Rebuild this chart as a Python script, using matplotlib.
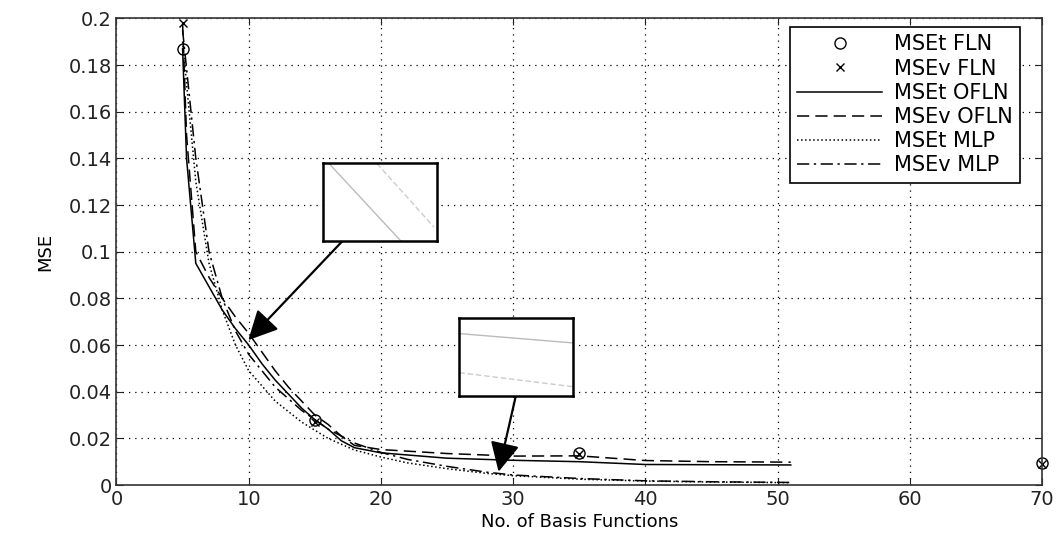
import numpy as np
import matplotlib
matplotlib.use("Agg")
import matplotlib.pyplot as plt

plt.rcParams['font.family'] = ['DejaVu Sans']

# FLN results (markers only)
x_fln = [5, 15, 35, 70]
mset_fln = [0.187, 0.0278, 0.0137, 0.0094]
msev_fln = [0.198, 0.0272, 0.0133, 0.0092]

# OFLN curves
x_ofln = [5, 5.3, 6, 7, 8, 9, 10, 11, 12, 13, 14, 15, 16, 17, 18, 20, 25, 30, 35, 40, 45, 51]
mset_ofln = [0.187, 0.14, 0.095, 0.085, 0.075, 0.067, 0.060, 0.052, 0.045, 0.039, 0.033,
             0.028, 0.024, 0.019, 0.016, 0.0138, 0.0115, 0.0106, 0.0100, 0.0088, 0.0087, 0.0086]
msev_ofln = [0.198, 0.15, 0.100, 0.089, 0.080, 0.072, 0.065, 0.057, 0.049, 0.042, 0.036,
             0.030, 0.026, 0.021, 0.017, 0.0152, 0.0135, 0.0124, 0.0125, 0.0105, 0.0100, 0.0098]

# MLP curves
x_mlp = [5, 6, 7, 8, 9, 10, 12, 14, 16, 18, 20, 22, 25, 28, 30, 35, 40, 45, 51]
mset_mlp = [0.19, 0.13, 0.095, 0.075, 0.060, 0.049, 0.036, 0.027, 0.020, 0.015, 0.012,
            0.0095, 0.0070, 0.0050, 0.0040, 0.0025, 0.0017, 0.0013, 0.0010]
msev_mlp = [0.195, 0.14, 0.10, 0.080, 0.066, 0.056, 0.042, 0.032, 0.024, 0.018, 0.014,
            0.011, 0.0080, 0.0055, 0.0043, 0.0028, 0.0018, 0.0014, 0.0011]

yticks = [0, 0.02, 0.04, 0.06, 0.08, 0.1, 0.12, 0.14, 0.16, 0.18, 0.2]
ylabels = ['0', '0.02', '0.04', '0.06', '0.08', '0.1', '0.12', '0.14', '0.16', '0.18', '0.2']

# zoom boxes: [x0, y0, width, height] in data units, arrow start, arrow tip
box1 = [15.64, 0.1046, 8.63, 0.0332]
arrow1 = [(17.1, 0.1046), (9.97, 0.0621)]
box2 = [25.93, 0.0381, 8.62, 0.0335]
arrow2 = [(30.2, 0.0381), (28.9, 0.0057)]
# faint traces inside the boxes (box-fraction coords)
box1_l1 = ([0.05, 0.68], [1.0, 0.0])
box1_l2 = ([0.47, 0.97], [1.0, 0.18])
box2_l1 = ([0.0, 1.0], [0.80, 0.68])
box2_l2 = ([0.0, 1.0], [0.30, 0.12])

fig = plt.figure(figsize=(10.56, 5.36), dpi=100)
ax = fig.add_axes([0.1103, 0.0951, 0.8764, 0.8707])

ax.plot(x_fln, mset_fln, 'o', mfc='none', mec='k', ms=8, mew=1.0, label='MSEt FLN', clip_on=False)
ax.plot(x_fln, msev_fln, 'x', color='k', ms=6, mew=1.0, label='MSEv FLN', clip_on=False)
ax.plot(x_ofln, mset_ofln, '-', color='k', lw=1.1, label='MSEt OFLN')
ax.plot(x_ofln, msev_ofln, '--', color='k', lw=1.1, dashes=(8, 4), label='MSEv OFLN')
ax.plot(x_mlp, mset_mlp, ':', color='k', lw=1.1, label='MSEt MLP')
ax.plot(x_mlp, msev_mlp, '-.', color='k', lw=1.1, dashes=(8, 3, 1.5, 3), label='MSEv MLP')

ax.set_xlim(0, 70)
ax.set_ylim(0, 0.2)
ax.set_xticks(range(0, 71, 10))
ax.set_yticks(yticks)
ax.set_yticklabels(ylabels)
ax.tick_params(direction='in', top=True, right=True, labelsize=14, length=5, colors='#222222')
ax.grid(True, color='k', linestyle=(0, (1, 4)), lw=0.9)
for s in ax.spines.values():
    s.set_color('#333333')
    s.set_linewidth(1.2)

ax.set_xlabel('No. of Basis Functions', fontsize=13, labelpad=3)
ax.set_ylabel('MSE', fontsize=13, labelpad=10)

leg = ax.legend(loc='upper right', bbox_to_anchor=(0.976, 0.981), fontsize=15,
                handlelength=4.1, fancybox=False, framealpha=1, edgecolor='k',
                borderpad=0.35, labelspacing=0.2, handletextpad=0.55, borderaxespad=0)
leg.get_frame().set_linewidth(1.2)

for box, (l1, l2) in [(box1, (box1_l1, box1_l2)), (box2, (box2_l1, box2_l2))]:
    ins = ax.inset_axes(box, transform=ax.transData)
    ins.plot(*l1, color='#bbbbbb', lw=1.0)
    ins.plot(*l2, color='#cccccc', lw=1.0, ls=(0, (4, 2)))
    ins.set_xlim(0, 1)
    ins.set_ylim(0, 1)
    ins.set_xticks([])
    ins.set_yticks([])
    for s in ins.spines.values():
        s.set_linewidth(1.8)
        s.set_color('k')

for start, tip in [arrow1, arrow2]:
    ax.annotate('', xy=tip, xytext=start,
                arrowprops=dict(arrowstyle='-|>,head_length=0.9,head_width=0.45',
                                color='k', lw=1.6, mutation_scale=20, shrinkA=0, shrinkB=0))

fig.savefig('out.png', dpi=100)
